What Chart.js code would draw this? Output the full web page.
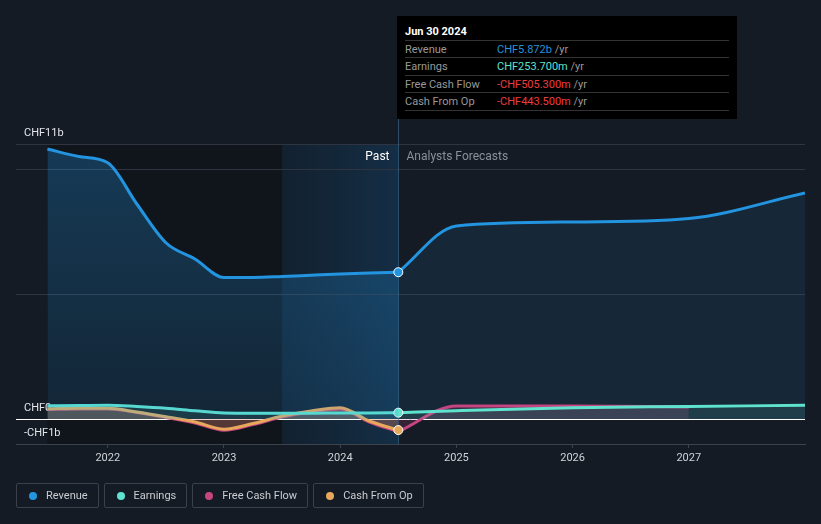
<!DOCTYPE html>
<html>
<head>
<meta charset="utf-8">
<script src="https://cdn.jsdelivr.net/npm/chart.js@4.4.1/dist/chart.umd.min.js"></script>
<style>
  html, body { margin: 0; padding: 0; background: #151b25; }
  body { width: 821px; height: 524px; position: relative; overflow: hidden; font-family: Roboto, "Noto Sans", sans-serif; }
  #wrap { position: absolute; left: 0; top: 0; width: 821px; height: 524px; }
  #tip { position: absolute; left: 397px; top: 16px; width: 340px; height: 103px; background: #000; box-sizing: border-box; padding: 8px 8px 0 8px; font-size: 11px; }
  #tip .head { color: #fff; font-weight: bold; height: 16px; line-height: 16px; border-bottom: 1px solid #333; }
  #tip .row { height: 16.4px; line-height: 17px; border-bottom: 1px solid #333; color: #999; position: relative; }
  #tip .row span.v { position: absolute; left: 92px; }
  #tip .unit { color: #999; }
  #legend { position: absolute; left: 16px; top: 483px; display: flex; gap: 5px; }
  .item { height: 25px; box-sizing: border-box; border: 1px solid #3b404b; border-radius: 2px; display: flex; align-items: center; padding: 0 10px 0 12px; color: #c9ccd1; font-size: 11px; }
  .item i { width: 8px; height: 8px; border-radius: 50%; display: inline-block; margin-right: 9px; }
</style>
</head>
<body>
<div id="wrap"><canvas id="chart"></canvas></div>
<div id="tip">
  <div class="head">Jun 30 2024</div>
  <div class="row">Revenue<span class="v"><span style="color:#2394df">CHF5.872b</span> <span class="unit">/yr</span></span></div>
  <div class="row">Earnings<span class="v"><span style="color:#5fe3cf">CHF253.700m</span> <span class="unit">/yr</span></span></div>
  <div class="row">Free Cash Flow<span class="v"><span style="color:#f23b3b">-CHF505.300m</span> <span class="unit">/yr</span></span></div>
  <div class="row">Cash From Op<span class="v"><span style="color:#f23b3b">-CHF443.500m</span> <span class="unit">/yr</span></span></div>
</div>
<div id="legend">
  <div class="item"><i style="background:#2394df"></i>Revenue</div>
  <div class="item"><i style="background:#5fe3cf"></i>Earnings</div>
  <div class="item"><i style="background:#c4457f"></i>Free Cash Flow</div>
  <div class="item"><i style="background:#e8a85c"></i>Cash From Op</div>
</div>
<script>
// quarters (as fractional years) for the reported history
const pastDates = [2021.48, 2021.75, 2022, 2022.25, 2022.5, 2022.75, 2023, 2023.25, 2023.5, 2023.75, 2024, 2024.25, 2024.5];
const forecastDates = [2024.5, 2025, 2026, 2027, 2028];
const fcfForecastDates = [2024.5, 2025, 2026, 2027];

// values in CHF billions
const revenuePast = [10.8, 10.5, 10.25, 8.6, 7.05, 6.4, 5.66, 5.66, 5.7, 5.75, 5.8, 5.84, 5.872];
const earningsPast = [0.53, 0.54, 0.55, 0.5, 0.43, 0.33, 0.24, 0.23, 0.23, 0.23, 0.24, 0.245, 0.2537];
const fcfPast = [0.38, 0.4, 0.4, 0.26, 0.06, -0.16, -0.45, -0.22, 0.08, 0.28, 0.4, -0.12, -0.5053];
const cfoPast = [0.41, 0.43, 0.43, 0.28, 0.09, -0.12, -0.41, -0.18, 0.12, 0.32, 0.45, -0.08, -0.4435];

const revenueForecast = [5.872, 7.72, 7.88, 8.02, 9.04];
const earningsForecast = [0.2537, 0.33, 0.45, 0.5, 0.55];
const fcfForecast = [-0.5053, 0.52, 0.52, 0.48];

const yGridValues = [-1, 0, 5, 10, 11];
const yLabels = { '11': 'CHF11b', '0': 'CHF0', '-1': '-CHF1b' };
const xTickYears = [2022, 2023, 2024, 2025, 2026, 2027];

const pastStart = 2021.48, lastYearStart = 2023.5, nowDate = 2024.5;

function pts(xs, ys) {
    return ys.map((v, i) => ({ x: xs[i], y: v }));
}

function lastPointOnly(size) {
    return function (ctx) {
        return ctx.dataIndex === ctx.dataset.data.length - 1 ? size : 0;
    };
}

function revenueGradient(ctx) {
    const area = ctx.chart.chartArea;
    if (!area) return 'rgba(35,148,223,0.25)';
    const g = ctx.chart.ctx.createLinearGradient(0, area.top, 0, area.bottom);
    g.addColorStop(0, 'rgba(35,148,223,0.3)');
    g.addColorStop(1, 'rgba(35,148,223,0.12)');
    return g;
}

// background bands, "now" line and Past / Forecast captions
const bandsPlugin = {
    id: 'bands',
    beforeDraw(chart) {
        const { ctx, chartArea, scales } = chart;
        const x0 = scales.x.getPixelForValue(pastStart);
        const x1 = scales.x.getPixelForValue(lastYearStart);
        const x2 = scales.x.getPixelForValue(nowDate);
        ctx.save();
        ctx.fillStyle = '#10141b';
        ctx.fillRect(x0, chartArea.top, x2 - x0, chartArea.bottom - chartArea.top);
        const g = ctx.createLinearGradient(x1, 0, x2, 0);
        g.addColorStop(0, 'rgba(24,62,96,0.3)');
        g.addColorStop(1, 'rgba(24,72,112,0.5)');
        ctx.fillStyle = g;
        ctx.fillRect(x1, chartArea.top, x2 - x1, chartArea.bottom - chartArea.top);
        ctx.restore();
    },
    beforeDatasetsDraw(chart) {
        const { ctx, chartArea, scales } = chart;
        const x2 = Math.round(scales.x.getPixelForValue(nowDate)) + 0.5;
        ctx.save();
        ctx.strokeStyle = 'rgba(60,110,150,0.6)';
        ctx.lineWidth = 1;
        ctx.beginPath();
        ctx.moveTo(x2, 16);
        ctx.lineTo(x2, chartArea.bottom);
        ctx.stroke();
        ctx.font = '12px Roboto, sans-serif';
        ctx.textBaseline = 'middle';
        ctx.textAlign = 'right';
        ctx.fillStyle = '#ffffff';
        ctx.fillText('Past', x2 - 9, chartArea.top + 13);
        ctx.textAlign = 'left';
        ctx.fillStyle = '#8b9099';
        ctx.fillText('Analysts Forecasts', x2 + 8, chartArea.top + 13);
        ctx.restore();
    }
};

const lineBase = {
    borderWidth: 3,
    cubicInterpolationMode: 'monotone',
    pointBorderColor: '#ffffff',
    pointBorderWidth: 1,
    pointHoverRadius: 0
};

const ctx = document.getElementById('chart').getContext('2d');
new Chart(ctx, {
    type: 'line',
    data: {
        datasets: [
            Object.assign({}, lineBase, {
                label: 'Earnings', data: pts(pastDates, earningsPast), order: 1,
                borderColor: '#5fe3cf', backgroundColor: 'rgba(95,227,207,0.12)', fill: 'origin',
                pointBackgroundColor: '#5fe3cf', pointRadius: lastPointOnly(4.5)
            }),
            Object.assign({}, lineBase, {
                label: 'Earnings forecast', data: pts(forecastDates, earningsForecast), order: 1,
                borderColor: '#5fe3cf', backgroundColor: 'rgba(95,227,207,0.12)', fill: 'origin', pointRadius: 0
            }),
            Object.assign({}, lineBase, {
                label: 'Cash From Op', data: pts(pastDates, cfoPast), order: 2,
                borderColor: '#e8a85c', backgroundColor: 'rgba(232,168,92,0.2)', fill: 'origin',
                pointBackgroundColor: '#e8a85c', pointRadius: lastPointOnly(4.5)
            }),
            Object.assign({}, lineBase, {
                label: 'Free Cash Flow', data: pts(pastDates, fcfPast), order: 3,
                borderColor: '#c4457f', backgroundColor: 'rgba(196,69,127,0.18)', fill: 'origin',
                pointRadius: 0
            }),
            Object.assign({}, lineBase, {
                label: 'Free Cash Flow forecast', data: pts(fcfForecastDates, fcfForecast), order: 3,
                borderColor: '#c4457f', backgroundColor: 'rgba(196,69,127,0.18)', fill: 'origin', pointRadius: 0
            }),
            Object.assign({}, lineBase, {
                label: 'Revenue', data: pts(pastDates, revenuePast), order: 0,
                borderColor: '#2394df', backgroundColor: revenueGradient, fill: 'origin',
                pointBackgroundColor: '#2394df', pointRadius: lastPointOnly(4.5)
            }),
            Object.assign({}, lineBase, {
                label: 'Revenue forecast', data: pts(forecastDates, revenueForecast), order: 4,
                borderColor: '#2394df', backgroundColor: 'rgba(35,148,223,0.1)', fill: 'origin', pointRadius: 0
            })
        ]
    },
    options: {
        responsive: true,
        maintainAspectRatio: false,
        animation: false,
        events: [],
        layout: { padding: { left: 16, right: 16, top: 144, bottom: 56 } },
        plugins: { legend: { display: false }, tooltip: { enabled: false } },
        scales: {
            x: {
                type: 'linear',
                min: 2021.21,
                max: 2028.0,
                afterBuildTicks: scale => { scale.ticks = xTickYears.map(v => ({ value: v })); },
                afterFit: scale => { scale.height = 24; },
                grid: { drawOnChartArea: false, drawTicks: true, tickLength: 4, color: '#3d434d' },
                border: { color: '#3d434d' },
                ticks: { color: '#d0d3d8', font: { family: 'Roboto', size: 11 }, padding: 4, maxRotation: 0, callback: v => String(v) }
            },
            y: {
                type: 'linear',
                min: -1,
                max: 11,
                afterBuildTicks: scale => { scale.ticks = yGridValues.map(v => ({ value: v })); },
                afterFit: scale => { scale.width = 0; },
                grid: {
                    drawTicks: false,
                    color: c => (c.tick && c.tick.value === 0 ? '#ffffff' : '#2f3540')
                },
                border: { display: false },
                ticks: {
                    mirror: true,
                    padding: 8,
                    labelOffset: -11,
                    color: '#e2e4e8',
                    font: { family: 'Roboto', size: 11 },
                    callback: v => yLabels[String(v)] || ''
                }
            }
        }
    },
    plugins: [bandsPlugin]
});
</script>
</body>
</html>
